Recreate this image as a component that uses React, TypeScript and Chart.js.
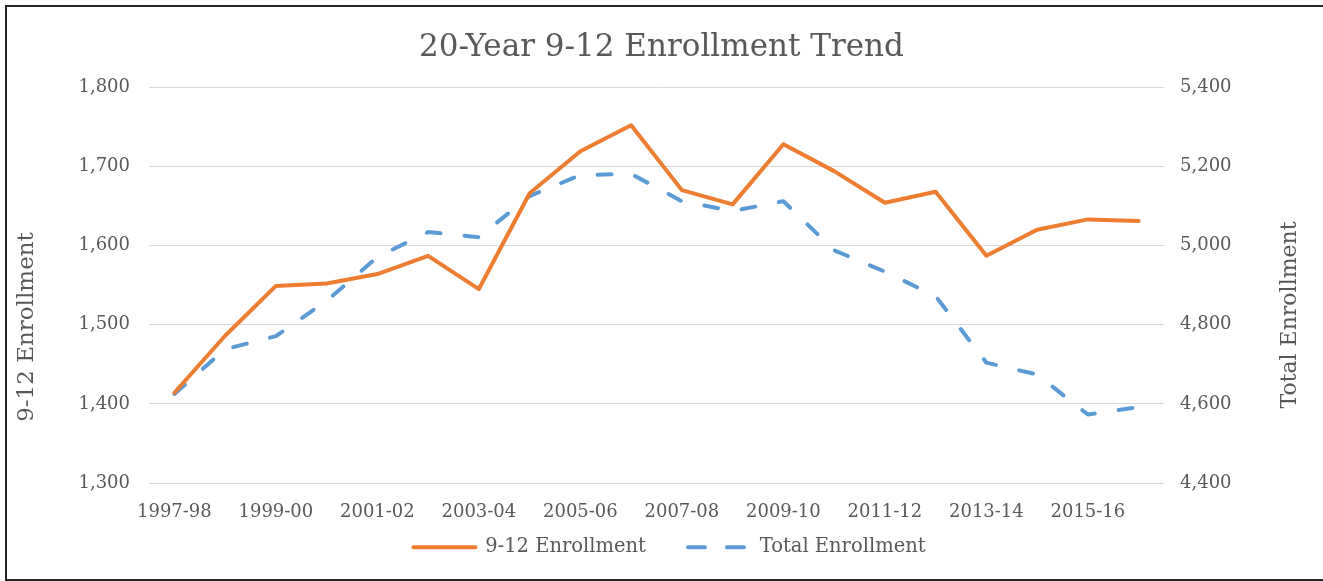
import React, { useEffect, useRef } from "react";
import { Chart, registerables } from "chart.js";

Chart.register(...registerables);

const categories = [
  "1997-98", "1998-99", "1999-00", "2000-01", "2001-02", "2002-03", "2003-04",
  "2004-05", "2005-06", "2006-07", "2007-08", "2008-09", "2009-10", "2010-11",
  "2011-12", "2012-13", "2013-14", "2014-15", "2015-16", "2016-17",
];
const enrollment912 = [
  1414, 1486, 1549, 1552, 1564, 1587, 1545, 1666, 1719, 1752,
  1670, 1652, 1728, 1694, 1654, 1668, 1587, 1620, 1633, 1631,
];
const totalEnrollment = [
  4625, 4738, 4771, 4860, 4971, 5034, 5021, 5125, 5178, 5181,
  5112, 5087, 5112, 4988, 4934, 4872, 4704, 4674, 4573, 4592,
];
const leftTicks = { min: 1300, max: 1800, step: 100 };
const rightTicks = { min: 4400, max: 5400, step: 200 };

const FONT = "'DejaVu Serif', serif";
const TEXT = "#595959";

const axisTitlePlugin = {
  id: "axisTitles",
  afterLayout(chart: any) {
    // let the category labels draw below the (shortened) x-axis box
    const x = chart.scales.x;
    x.bottom = chart.height;
    x.height = x.bottom - x.top;
    // nudge the legend slightly right, as in the reference
    if (chart.legend) {
      chart.legend.left += 8;
      chart.legend.right += 8;
    }
  },
  afterDraw(chart: any) {
    const ctx = chart.ctx;
    ctx.save();
    ctx.fillStyle = TEXT;
    ctx.textAlign = "center";
    ctx.textBaseline = "middle";
    const draw = (text: string, x: number, y: number, size: number) => {
      ctx.save();
      ctx.font = `${size}px ${FONT}`;
      ctx.translate(x, y);
      ctx.rotate(-Math.PI / 2);
      ctx.fillText(text, 0, 0);
      ctx.restore();
    };
    draw("9-12 Enrollment", 27, 327, 23);
    draw("Total Enrollment", 1290, 315, 22);
    ctx.restore();
  },
};

export default function App() {
  const ref = useRef<HTMLCanvasElement>(null);
  useEffect(() => {
    if (!ref.current) return;
    const chart = new Chart(ref.current, {
      type: "line",
      data: {
        labels: categories,
        datasets: [
          {
            label: "9-12 Enrollment",
            data: enrollment912,
            borderColor: "#ED7D31",
            backgroundColor: "#ED7D31",
            borderWidth: 4,
            pointRadius: 0,
            tension: 0,
            yAxisID: "y",
            borderCapStyle: "round",
            borderJoinStyle: "round",
          },
          {
            label: "Total Enrollment",
            data: totalEnrollment,
            borderColor: "#5B9BD5",
            backgroundColor: "#5B9BD5",
            borderWidth: 4,
            borderDash: [14, 24],
            borderCapStyle: "round",
            borderJoinStyle: "round",
            pointRadius: 0,
            tension: 0,
            yAxisID: "y1",
          },
        ],
      },
      options: {
        animation: false,
        responsive: false,
        maintainAspectRatio: false,
        layout: { padding: { top: 0, bottom: 14, left: 0, right: 0 } },
        plugins: {
          title: {
            display: true,
            text: "20-Year 9-12 Enrollment Trend",
            color: TEXT,
            font: { family: FONT, size: 31, weight: "normal" },
            padding: { top: 29, bottom: 21 },
          },
          legend: {
            position: "bottom",
            labels: {
              color: TEXT,
              font: { family: FONT, size: 19.5 },
              usePointStyle: true,
              pointStyle: "line",
              pointStyleWidth: 62,
              boxHeight: 4,
              padding: 42,
              generateLabels: (chart: any) => {
                const items = Chart.defaults.plugins.legend.labels.generateLabels(chart);
                return items.map((it: any) => {
                  const ds: any = chart.data.datasets[it.datasetIndex];
                  return {
                    ...it,
                    pointStyle: "line",
                    lineWidth: 4,
                    strokeStyle: ds.borderColor,
                    fillStyle: ds.borderColor,
                    lineDash: ds.borderDash ? [17, 22] : [],
                    lineDashOffset: 0,
                    lineCap: "round",
                  };
                });
              },
            },
          },
          tooltip: { enabled: false },
        },
        scales: {
          x: {
            offset: true,
            grid: { display: false, drawTicks: false },
            border: { display: false },
            ticks: {
              color: TEXT,
              font: { family: FONT, size: 18 },
              autoSkip: false,
              maxRotation: 0,
              padding: 19,
              callback: (_v: any, i: number) => (i % 2 === 0 ? categories[i] : ""),
            },
            afterFit: (s: any) => {
              s.height = 12.5;
            },
          },
          y: {
            position: "left",
            min: leftTicks.min,
            max: leftTicks.max,
            grid: { color: "#D9D9D9", lineWidth: 1, drawTicks: false },
            border: { display: false },
            ticks: {
              stepSize: leftTicks.step,
              color: TEXT,
              font: { family: FONT, size: 18 },
              padding: 19,
              callback: (v: any) => Number(v).toLocaleString("en-US"),
            },
            afterFit: (s: any) => {
              s.width = 149;
            },
          },
          y1: {
            position: "right",
            min: rightTicks.min,
            max: rightTicks.max,
            grid: { display: false, drawTicks: false },
            border: { display: false },
            ticks: {
              stepSize: rightTicks.step,
              color: TEXT,
              font: { family: FONT, size: 18 },
              padding: 16,
              callback: (v: any) => Number(v).toLocaleString("en-US"),
            },
            afterFit: (s: any) => {
              s.width = 159;
            },
          },
        },
      },
      plugins: [axisTitlePlugin],
    });
    return () => chart.destroy();
  }, []);

  return (
    <div style={{ position: "fixed", left: 0, top: 0, width: 1323, height: 581, background: "#fff", overflow: "hidden" }}>
      <canvas ref={ref} width={1323} height={581} style={{ display: "block" }} />
      <div
        style={{
          position: "absolute",
          left: 5,
          top: 5,
          width: 1340,
          height: 572,
          borderLeft: "2px solid #262626",
          borderTop: "2px solid #262626",
          borderBottom: "2px solid #262626",
          pointerEvents: "none",
        }}
      />
    </div>
  );
}
